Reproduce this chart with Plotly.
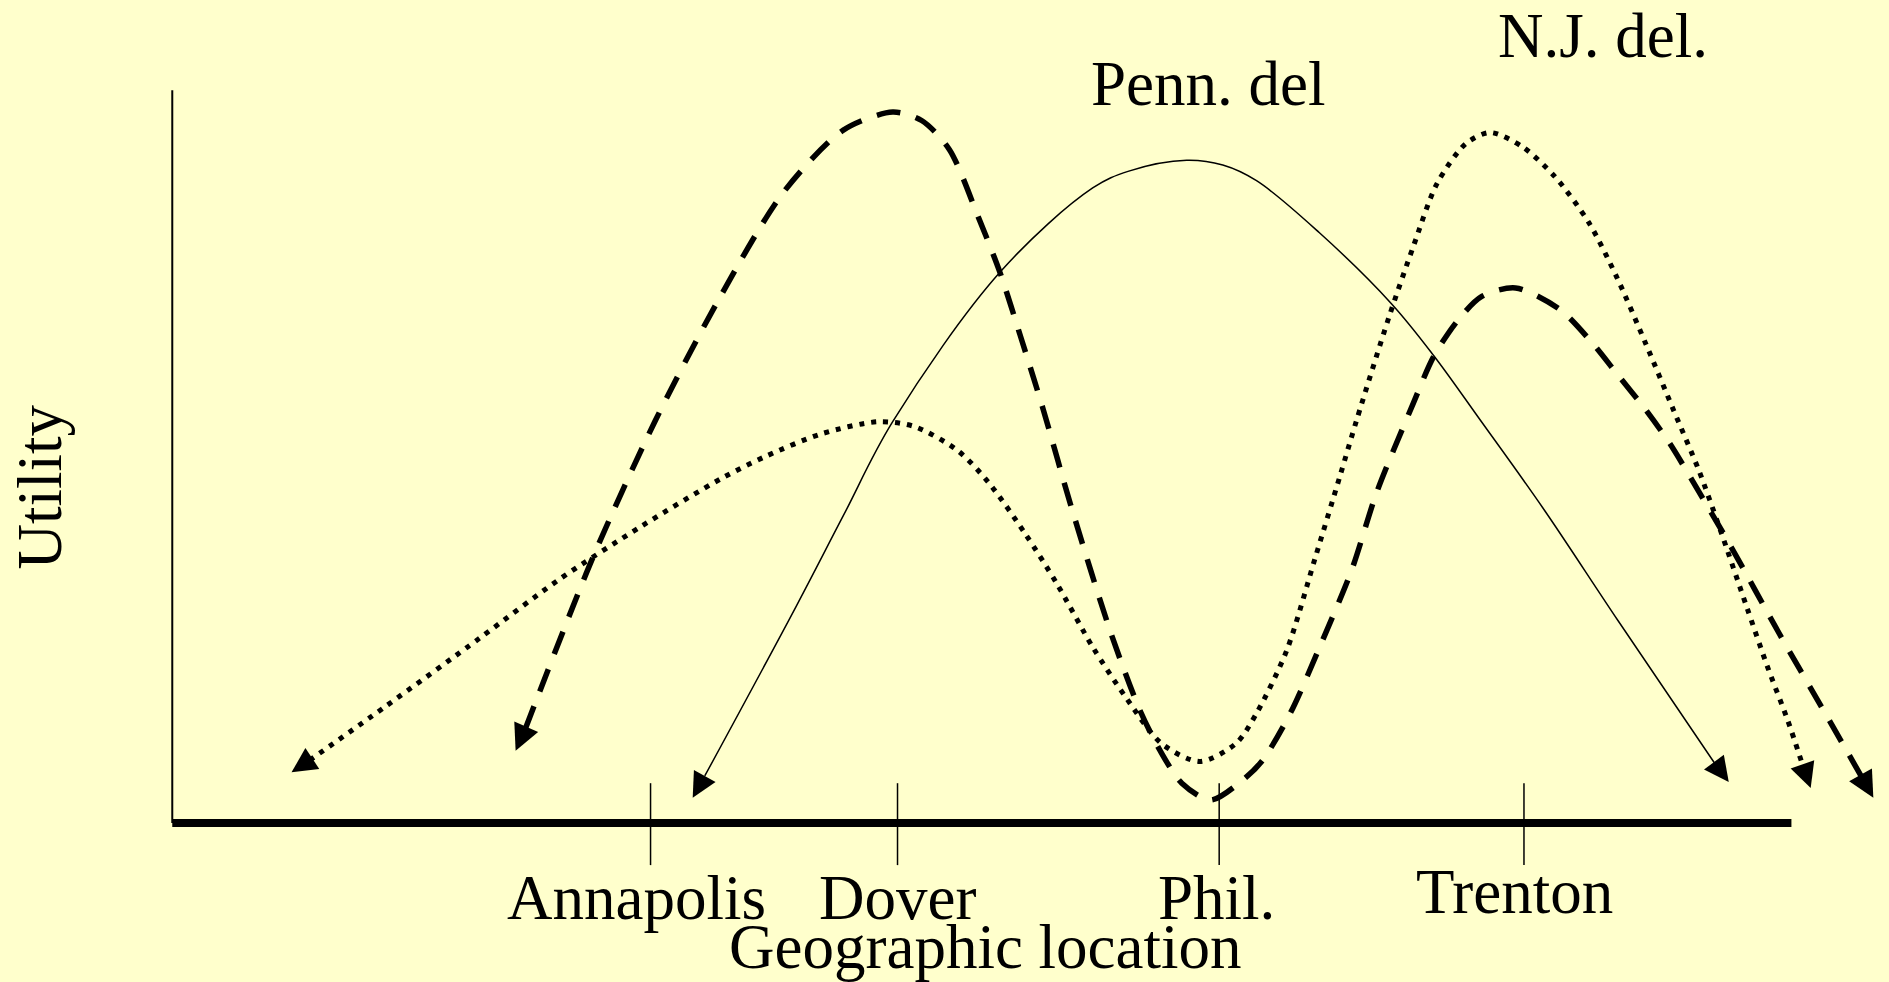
import plotly.graph_objects as go

# ---- data (x = geographic position, u = utility) ----
cities = ["Annapolis", "Dover", "Phil.", "Trenton"]
city_x = [540, 745, 1012, 1265]

penn_x = [575, 585, 661, 700, 741, 830, 907, 937, 985, 1015, 1043, 1095, 1155, 1190, 1229, 1281, 1343, 1423, 1435]
penn_u = [21, 39, 180, 255, 333, 457, 527, 541, 550, 546, 533, 490, 431, 388, 334, 261, 168, 50, 34]

dash_x = [428, 436, 492, 544, 598, 650, 700, 741, 765, 788, 812, 830, 848, 866, 889,
          922, 946, 963, 981, 1005, 1032, 1048, 1071, 1098, 1122, 1143, 1173, 1190, 1210, 1230,
          1258, 1295, 1322, 1342, 1366, 1386, 1406, 1437, 1477, 1511, 1546, 1555]
dash_u = [60, 78, 220, 334, 437, 523, 575, 590, 583, 559, 503, 457, 401, 343, 263,
          158, 94, 60, 33, 19, 36, 52, 91, 152, 210, 275, 348, 387, 417, 437,
          444, 426, 398, 373, 343, 315, 282, 229, 157, 98, 37, 21]

dot_x = [242, 257, 319, 399, 464, 532, 599, 635, 682, 729, 759, 795, 821, 851, 877, 907, 934,
         964, 996, 1026, 1043, 1068, 1092, 1112, 1126, 1153, 1173, 1193, 1217, 1237, 1264, 1291,
         1319, 1342, 1366, 1389, 1410, 1427, 1450, 1467, 1484, 1496, 1503]
dot_u = [42, 52, 96, 154, 202, 246, 286, 304, 323, 333, 329, 309, 282, 240, 199, 146, 105,
         66, 51, 66, 91, 143, 221, 287, 334, 420, 478, 531, 564, 573, 561, 536,
         498, 453, 398, 343, 293, 246, 179, 130, 85, 49, 29]

x_range = [0, 1568]
u_range = [-132, 683]

FONT = "Liberation Serif, Times New Roman, serif"
BG = "#FFFFCC"

fig = go.Figure()

series = [
    (penn_x, penn_u, dict(color="black", width=1.5), 1.5, 3.3, 1.0),
    (dash_x, dash_u, dict(color="black", width=5.5, dash="24px,16px"), 5.5, 0.95, 0.8),
    (dot_x, dot_u, dict(color="black", width=5, dash="5px,7px"), 5, 1.0, 0.8),
]

annotations = []
for xs, us, line, aw, asz, sm in series:
    fig.add_trace(go.Scatter(x=xs[1:-1], y=us[1:-1], mode="lines",
                             line=dict(shape="spline", smoothing=sm, **line),
                             hoverinfo="skip", showlegend=False))
    for tip, tail in ((0, 1), (-1, -2)):
        annotations.append(dict(x=xs[tip], y=us[tip], ax=xs[tail], ay=us[tail],
                                xref="x", yref="y", axref="x", ayref="y",
                                text="", showarrow=True, arrowhead=2,
                                arrowsize=asz, arrowwidth=aw, arrowcolor="black",
                                standoff=0))

shapes = [
    # vertical axis
    dict(type="line", xref="x", yref="y", x0=143, x1=143, y0=0, y1=608,
         line=dict(color="black", width=2)),
    # thick horizontal axis
    dict(type="line", xref="x", yref="y", x0=143, x1=1487, y0=0, y1=0,
         line=dict(color="black", width=8)),
]
for cx in city_x:
    shapes.append(dict(type="line", xref="x", yref="y", x0=cx, x1=cx, y0=33, y1=-35,
                       line=dict(color="black", width=1.5)))

label_dx = [-12, 0, -2, -8]
label_dy = [0, 0, 0, 5]
for name, cx, dx, dy in zip(cities, city_x, label_dx, label_dy):
    annotations.append(dict(x=cx + dx, y=-62 + dy, xref="x", yref="y", text=name,
                            showarrow=False, xanchor="center", yanchor="middle",
                            font=dict(family=FONT, size=63, color="black")))

texts = [
    ("Geographic location", 818, -103, 0),
    ("Penn. del", 1003, 613, 0),
    ("N.J. del.", 1331, 653, 0),
    ("Utility", 33, 279, -90),
]
for t, tx, ty, ang in texts:
    annotations.append(dict(x=tx, y=ty, xref="x", yref="y", text=t, showarrow=False,
                            xanchor="center", yanchor="middle", textangle=ang,
                            font=dict(family=FONT, size=63, color="black")))

fig.update_layout(
    width=1889, height=982, autosize=False,
    margin=dict(l=0, r=0, t=0, b=0, pad=0),
    paper_bgcolor=BG, plot_bgcolor=BG,
    xaxis=dict(range=x_range, visible=False, fixedrange=True),
    yaxis=dict(range=u_range, visible=False, fixedrange=True),
    shapes=shapes, annotations=annotations,
    showlegend=False,
)

fig.write_html("out.html", config={"displayModeBar": False},
               post_script="document.body.style.margin='0';document.body.style.overflow='hidden';")
